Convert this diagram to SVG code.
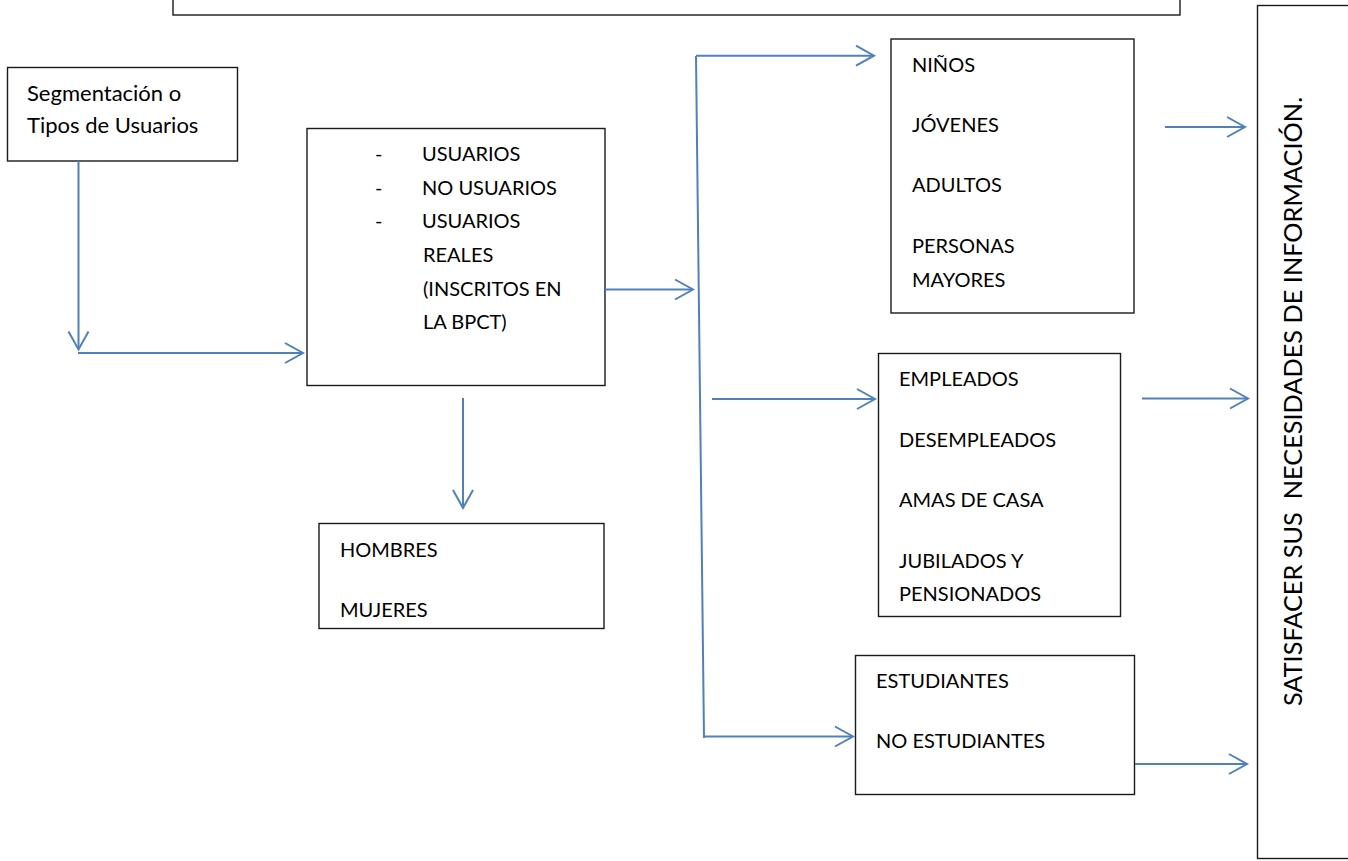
<svg xmlns="http://www.w3.org/2000/svg" width="1348" height="861" viewBox="0 0 1348 861">
<style>
.box{fill:#fff;stroke:#1a1a1a;stroke-width:1.4}
.t{font-family:Lato,"Open Sans","Liberation Sans",sans-serif;font-size:20px;fill:#000}
.c{fill:none;stroke:#4f81bd;stroke-width:2}
</style>
<defs>
<marker id="ah" viewBox="0 0 22 24" markerWidth="22" markerHeight="24" refX="20" refY="12" orient="auto" markerUnits="userSpaceOnUse" overflow="visible">
<path d="M2,2 L20,12 L2,22" fill="none" stroke="#4f81bd" stroke-width="2"/>
</marker>
</defs>
<rect width="1348" height="861" fill="#fff"/>
<g id="top-box"><rect class="box" x="173" y="-5" width="1007" height="20"/></g>
<g id="segmentacion">
<rect class="box" x="7.5" y="67.5" width="230" height="93.5"/>
<text class="t" style="font-size:22px" x="27" y="101">Segmentación o</text>
<text class="t" style="font-size:22px" x="27" y="133">Tipos de Usuarios</text>
</g>
<g id="usuarios">
<rect class="box" x="307" y="128.5" width="298" height="257"/>
<text class="t" x="375" y="161">-</text>
<text class="t" x="375" y="195">-</text>
<text class="t" x="375" y="228">-</text>
<text class="t" x="422" y="161">USUARIOS</text>
<text class="t" x="422" y="195">NO USUARIOS</text>
<text class="t" x="422" y="228">USUARIOS</text>
<text class="t" x="423" y="262">REALES</text>
<text class="t" x="423" y="296">(INSCRITOS EN</text>
<text class="t" x="423" y="329">LA BPCT)</text>
</g>
<g id="genero">
<rect class="box" x="319" y="523.5" width="285" height="105"/>
<text class="t" x="340" y="557">HOMBRES</text>
<text class="t" x="340" y="617">MUJERES</text>
</g>
<g id="edades">
<rect class="box" x="891" y="39" width="243" height="274"/>
<text class="t" x="912" y="72">NIÑOS</text>
<text class="t" x="912" y="132">JÓVENES</text>
<text class="t" x="912" y="192">ADULTOS</text>
<text class="t" x="912" y="253">PERSONAS</text>
<text class="t" x="912" y="287">MAYORES</text>
</g>
<g id="ocupacion">
<rect class="box" x="878.5" y="353.5" width="242" height="263"/>
<text class="t" x="899" y="386">EMPLEADOS</text>
<text class="t" x="899" y="447">DESEMPLEADOS</text>
<text class="t" x="899" y="507">AMAS DE CASA</text>
<text class="t" x="899" y="568">JUBILADOS Y</text>
<text class="t" x="899" y="601">PENSIONADOS</text>
</g>
<g id="estudios">
<rect class="box" x="855.5" y="655.5" width="279" height="139"/>
<text class="t" x="876" y="688">ESTUDIANTES</text>
<text class="t" x="876" y="748">NO ESTUDIANTES</text>
</g>
<g id="satisfacer">
<rect class="box" x="1257.5" y="5.5" width="100" height="853"/>
<text class="t" style="font-size:25.3px" text-anchor="middle" transform="translate(1302,401.5) rotate(-90)" xml:space="preserve">SATISFACER SUS  NECESIDADES DE INFORMACIÓN.</text>
</g>
<g id="connectors">
<path class="c" d="M78.5,161 L78.5,349.5" marker-end="url(#ah)"/>
<path class="c" d="M78,353 L303,353" marker-end="url(#ah)"/>
<path class="c" d="M605,289.5 L693,289.5" marker-end="url(#ah)"/>
<path class="c" d="M696,56 L704,738"/>
<path class="c" d="M696,55.7 L874,55.7" marker-end="url(#ah)"/>
<path class="c" d="M712,399 L875,399" marker-end="url(#ah)"/>
<path class="c" d="M705,736.5 L853,736.5" marker-end="url(#ah)"/>
<path class="c" d="M463,398 L463,508" marker-end="url(#ah)"/>
<path class="c" d="M1165,127 L1245,127" marker-end="url(#ah)"/>
<path class="c" d="M1142,398.5 L1248,398.5" marker-end="url(#ah)"/>
<path class="c" d="M1135,764 L1247,764" marker-end="url(#ah)"/>
</g>
</svg>
